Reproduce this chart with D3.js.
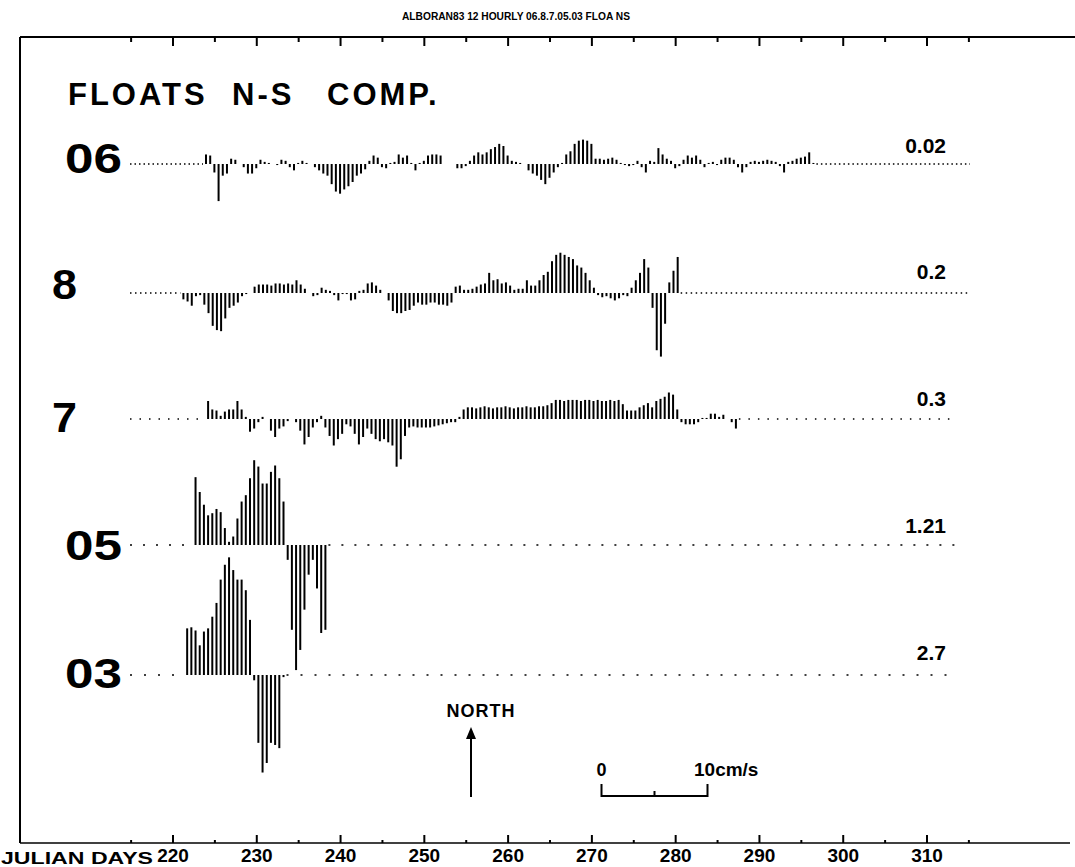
<!DOCTYPE html>
<html>
<head>
<meta charset="utf-8">
<script src="https://cdn.jsdelivr.net/npm/d3@7"></script>
<style>
  body { margin: 0; background: #fff; }
  svg text { font-family: "Liberation Sans", Arial, sans-serif; font-weight: bold; fill: #000; }
</style>
</head>
<body>
<svg id="chart" width="1075" height="867"></svg>
<script>
// floats, top to bottom, with the number printed at the right of each row
var floatNames = ["06", "8", "7", "05", "03"];
var rightLabels = ["0.02", "0.2", "0.3", "1.21", "2.7"];
// julian day of the first stick of each float (one stick every 12 hours)
var startDays = [224.0, 221.3, 224.25, 222.75, 221.75];

// N-S velocity component, cm/s, 12 hourly
var ns06 = [0.9,0.8,-0.8,-3.5,-1.1,-0.9,0.5,0.4,0,-0.3,
  -0.9,-0.9,-0.4,0.4,0.2,0.1,0,-0.1,0.4,0.3,
  -0.3,-0.6,0.1,0.3,0.1,0,-0.3,-0.6,-0.9,-1.1,
  -1.9,-2.6,-2.8,-2.4,-2.1,-1.7,-1.1,-0.9,-0.5,0.3,
  0.8,0.6,-0.3,-0.4,0.1,0.2,0.9,0.6,0.8,0.1,
  -0.6,0.1,0.3,0.8,0.9,0.9,0.8,0,0,0,
  -0.4,-0.4,-0.2,0.3,0.8,1.1,0.9,1.1,1.4,1.6,
  1.9,1.7,0.8,0.3,0.2,0.1,0,-0.6,-0.9,-1.1,
  -1.5,-1.9,-1.3,-0.8,
  -0.3,0.1,0.9,1.2,1.9,2.2,2.3,2.2,1.9,0.5,
  0.5,0.4,0.5,0.6,0.4,0.1,-0.1,-0.2,-0.1,0.3,
  -0.3,-0.8,0.3,0.2,1.5,0.9,0.5,0.3,-0.4,-0.2,
  0.4,0.8,0.6,0.8,0.4,-0.3,0.1,0.2,-0.1,0.4,
  0.6,0.6,0.4,-0.3,-0.8,-0.3,0.2,0.3,0.2,0.3,
  0.4,0.3,0.2,-0.2,-0.8,0.2,0.3,0.5,0.6,0.7,
  1.1,0.1];

var ns8 = [-0.6,-0.8,-1.2,-0.3,-0.2,-1.1,-1.9,-3.1,-3.5,-3.6,
  -2.4,-1.4,-1.2,-0.9,-0.3,-0.1,0,0.6,0.8,0.8,
  0.8,0.7,0.9,0.9,0.8,0.9,0.8,1.2,0.8,0.4,
  0,-0.3,-0.2,0.5,0.3,0.2,-0.2,-0.7,-0.1,-0.1,
  -0.7,-0.6,0.2,0.3,0.9,1.0,0.7,0.3,0,-0.7,
  -1.7,-1.9,-1.9,-1.7,-1.6,-1.2,-0.9,-1.1,-1.1,-0.9,
  -0.9,-1.1,-1.1,-1.2,-0.9,0.6,0.7,0.3,0.3,0.4,
  0.6,0.8,0.9,1.9,1.2,1.3,0.9,1.0,0.7,0.3,
  0.4,0.4,1.2,0.7,0.7,1.2,1.7,2.0,3.0,3.6,
  3.8,3.6,3.4,
  3.2,2.6,2.4,1.9,1.2,0.5,-0.2,-0.4,-0.3,-0.5,
  -0.7,-0.5,-0.2,-0.3,0.5,1.2,1.9,3.2,2.4,-1.4,
  -5.4,-6.0,-2.9,1.0,2.1,3.4];

var ns7 = [1.7,0.9,0.8,0.3,0.7,0.9,0.9,1.7,0.9,0.2,
  -1.2,-0.9,-0.3,0.2,0,-1.1,-1.7,-0.9,-0.7,-0.2,
  0,-0.3,-1.1,-2.4,-1.7,-0.8,-0.3,0.3,-0.8,-1.6,
  -2.5,-1.9,-1.4,-0.5,-0.7,-1.4,-2.4,-1.7,-0.9,-1.4,
  -1.9,-2.1,-1.9,-2.2,-2.5,-4.5,-3.8,-1.6,-0.8,-0.7,
  -0.8,-0.8,-0.8,-0.8,-0.7,-0.6,-0.5,-0.4,-0.3,
  -0.3,0.2,0.9,1.1,1.1,1.0,1.1,1.2,1.1,1.0,
  1.1,1.1,1.2,1.1,1.0,1.1,1.1,1.2,1.1,1.1,
  1.2,1.2,1.3,1.5,1.8,1.8,1.7,1.8,1.8,1.8,
  1.7,1.8,1.8,1.7,1.8,1.7,1.7,1.8,1.7,1.8,
  1.4,0.8,0.8,0.8,1.1,1.3,1.5,1.1,1.7,1.9,
  2.1,2.5,2.3,0.9,-0.3,-0.5,-0.5,-0.5,-0.3,0.1,
  0.1,0.5,0.5,0.2,0.4,0,-0.3,-0.9];

var ns05 = [6.4,5.0,3.8,2.8,3.0,3.4,3.1,1.6,0.3,0.8,
  2.5,4.1,4.7,6.3,8.0,7.4,5.8,5.8,6.9,7.5,
  6.3,4.1,-1.4,-8.0,-11.8,-9.9,-6.1,-2.8,-1.4,-4.1,
  -8.3,-8.0];

var ns03 = [4.4,4.5,4.2,2.8,4.1,4.4,5.5,6.8,9.0,10.4,
  11.1,9.9,9.0,9.0,8.0,5.2,-0.5,-6.4,-9.2,-8.3,
  -6.4,-6.6,-6.9,-0.2];

var dayTicks = [220, 230, 240, 250, 260, 270, 280, 290, 300, 310];
var minorTicks = [215, 225, 235, 245, 255, 265, 275, 285, 295, 305, 315];

var seriesValues = [ns06, ns8, ns7, ns05, ns03];

// ---- layout ----
var W = 1075, H = 867;
var frameLeft = 20, frameTop = 37, frameBottom = 843;
var baselines = [164, 293, 419, 545, 675];
var nameBaselines = [173, 299, 432, 560, 688];
var labelBaselines = [153, 279, 406, 533, 660];
var dash = ["1.5,3", "1.5,3.5", "1.5,8", "2,11", "2,12"];
var dotRight = [970, 970, 952, 958, 955];

var svg = d3.select("#chart");

var x = d3.scaleLinear().domain([220, 310]).range([172.5, 926.5]);
// 10 cm/s -> length of the scale bar
var v = d3.scaleLinear().domain([0, 10]).range([0, 106]);

// title
svg.append("text")
  .attr("x", 516).attr("y", 20)
  .attr("text-anchor", "middle")
  .attr("font-size", 10)
  .attr("textLength", 228)
  .attr("lengthAdjust", "spacingAndGlyphs")
  .text("ALBORAN83 12 HOURLY 06.8.7.05.03 FLOA NS");

// frame
svg.append("line").attr("x1", frameLeft).attr("x2", W).attr("y1", frameTop).attr("y2", frameTop)
  .attr("stroke", "#000").attr("stroke-width", 2);
svg.append("line").attr("x1", frameLeft).attr("x2", frameLeft).attr("y1", frameTop).attr("y2", frameBottom)
  .attr("stroke", "#000").attr("stroke-width", 2);
svg.append("line").attr("x1", frameLeft).attr("x2", 1070).attr("y1", frameBottom).attr("y2", frameBottom)
  .attr("stroke", "#000").attr("stroke-width", 1.5);

// top ticks (pointing down)
var topMajor = svg.append("g").attr("transform", "translate(0," + frameTop + ")")
  .call(d3.axisBottom(x).tickValues(dayTicks).tickSize(9).tickFormat(""));
var topMinor = svg.append("g").attr("transform", "translate(0," + frameTop + ")")
  .call(d3.axisBottom(x).tickValues(minorTicks).tickSize(5).tickFormat(""));

// bottom axis, ticks pointing up, labels below
var bottomAxis = svg.append("g").attr("transform", "translate(0," + frameBottom + ")")
  .call(d3.axisBottom(x).tickValues(dayTicks).tickSizeInner(-8).tickSizeOuter(0).tickPadding(6));
var bottomMinor = svg.append("g").attr("transform", "translate(0," + frameBottom + ")")
  .call(d3.axisBottom(x).tickValues(minorTicks).tickSizeInner(-3).tickSizeOuter(0).tickFormat(""));

[topMajor, topMinor, bottomAxis, bottomMinor].forEach(function(g) {
  g.select(".domain").remove();
  g.selectAll(".tick line").attr("stroke", "#000").attr("stroke-width", 2);
});
bottomAxis.selectAll(".tick text")
  .attr("font-family", "Liberation Sans, Arial, sans-serif")
  .attr("font-weight", "bold")
  .attr("font-size", 19)
  .attr("fill", "#000");

svg.append("text")
  .attr("x", 1).attr("y", 864)
  .attr("font-size", 17)
  .attr("textLength", 152)
  .attr("lengthAdjust", "spacingAndGlyphs")
  .text("JULIAN DAYS");

// heading
svg.append("text").attr("x", 68).attr("y", 105).attr("font-size", 31)
  .attr("letter-spacing", 3).text("FLOATS");
svg.append("text").attr("x", 232).attr("y", 105).attr("font-size", 31)
  .attr("letter-spacing", 3).text("N-S");
svg.append("text").attr("x", 327).attr("y", 105).attr("font-size", 31)
  .attr("letter-spacing", 3).text("COMP.");

// rows of sticks
floatNames.forEach(function(name, i) {
  var vals = seriesValues[i];
  var start = startDays[i];
  var end = start + (vals.length - 1) * 0.5;
  var base = baselines[i];
  var g = svg.append("g").attr("class", "row");

  // dotted zero line outside the record
  g.append("line")
    .attr("x1", 130).attr("x2", x(start) - 3)
    .attr("y1", base).attr("y2", base)
    .attr("stroke", "#000").attr("stroke-width", 1.5)
    .attr("stroke-dasharray", dash[i]);
  g.append("line")
    .attr("x1", x(end) + 3).attr("x2", dotRight[i])
    .attr("y1", base).attr("y2", base)
    .attr("stroke", "#000").attr("stroke-width", 1.5)
    .attr("stroke-dasharray", dash[i]);

  g.selectAll("line.stick")
    .data(vals)
    .enter()
    .append("line")
    .attr("class", "stick")
    .attr("x1", function(d, j) { return x(start + j * 0.5); })
    .attr("x2", function(d, j) { return x(start + j * 0.5); })
    .attr("y1", base)
    .attr("y2", function(d) { return base - (d < 0 ? -v(-d) : v(d)); })
    .attr("stroke", "#000")
    .attr("stroke-width", 2);

  svg.append("text")
    .attr("x", name.length > 1 ? 65 : 52)
    .attr("y", nameBaselines[i])
    .attr("font-size", 43)
    .attr("textLength", name.length > 1 ? 57 : 25)
    .attr("lengthAdjust", "spacingAndGlyphs")
    .text(name);

  svg.append("text")
    .attr("x", 946)
    .attr("y", labelBaselines[i])
    .attr("text-anchor", "end")
    .attr("font-size", 21)
    .text(rightLabels[i]);
});

// north arrow
svg.append("text").attr("x", 481).attr("y", 717).attr("text-anchor", "middle")
  .attr("font-size", 18).attr("letter-spacing", 1).text("NORTH");
svg.append("line").attr("x1", 471).attr("x2", 471).attr("y1", 736).attr("y2", 797)
  .attr("stroke", "#000").attr("stroke-width", 2);
svg.append("path").attr("d", "M471,727 L466,739 L476,739 Z").attr("fill", "#000");

// velocity scale bar, 0 .. 10 cm/s
var sb = d3.scaleLinear().domain([0, 10]).range([601.5, 601.5 + v(10)]);
svg.append("path")
  .attr("d", "M" + sb(0) + ",784 L" + sb(0) + ",796 L" + sb(10) + ",796 L" + sb(10) + ",784")
  .attr("fill", "none").attr("stroke", "#000").attr("stroke-width", 2);
svg.append("line").attr("x1", sb(5)).attr("x2", sb(5)).attr("y1", 791).attr("y2", 796)
  .attr("stroke", "#000").attr("stroke-width", 2);
svg.append("text").attr("x", sb(0)).attr("y", 776).attr("text-anchor", "middle")
  .attr("font-size", 18).text("0");
svg.append("text").attr("x", 694).attr("y", 776)
  .attr("font-size", 19).text("10cm/s");
</script>
</body>
</html>
